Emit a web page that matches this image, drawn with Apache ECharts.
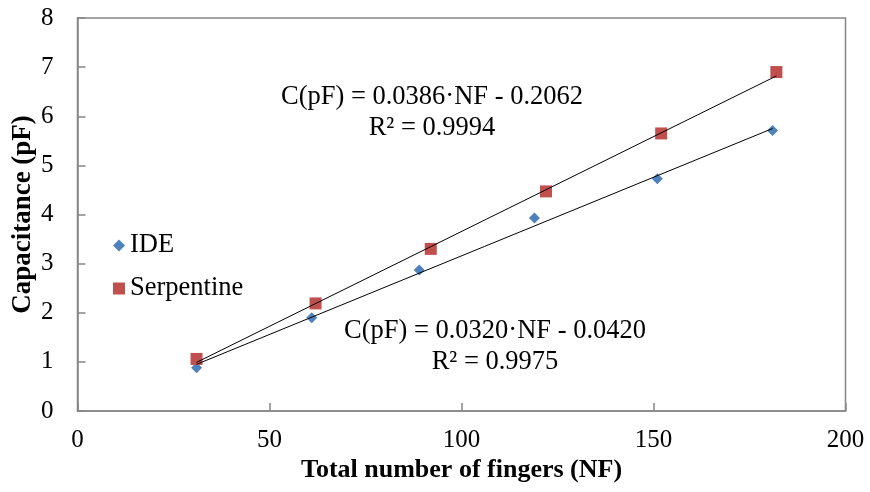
<!DOCTYPE html>
<html>
<head>
<meta charset="utf-8">
<script src="https://cdn.jsdelivr.net/npm/echarts@6/dist/echarts.min.js"></script>
<style>html,body{margin:0;padding:0;background:#fff}#c{width:870px;height:492px}</style>
</head>
<body>
<div id="c"></div>
<script>
var ideData = [[31, 0.88], [61, 1.90], [89, 2.87], [119, 3.93], [151, 4.73], [181, 5.71]];
var serpData = [[31, 1.06], [62, 2.19], [92, 3.30], [122, 4.47], [152, 5.65], [182, 6.90]];
var ideTrend = [[31, 0.95], [181, 5.75]];
var serpTrend = [[31, 0.99], [182, 6.82]];
var ideEq = 'C(pF) = 0.0320·NF - 0.0420\nR² = 0.9975';
var serpEq = 'C(pF) = 0.0386·NF - 0.2062\nR² = 0.9994';
var xTitle = 'Total number of fingers (NF)';
var yTitle = 'Capacitance (pF)';

var FONT = '"Liberation Serif", "Times New Roman", serif';
var AX = '#868686';
var chart = echarts.init(document.getElementById('c'), null, {renderer: 'canvas'});
chart.setOption({
  animation: false,
  backgroundColor: '#fff',
  textStyle: {fontFamily: FONT},
  grid: {left: 77.5, right: 24.5, top: 18, bottom: 81, show: true, borderColor: AX, borderWidth: 1.5, containLabel: false, outerBoundsMode: 'none'},
  xAxis: {
    type: 'value', min: 0, max: 200, interval: 50,
    axisLine: {show: true, lineStyle: {color: AX, width: 1.5}},
    axisTick: {show: true, inside: true, length: 8, lineStyle: {color: AX, width: 1.5}},
    splitLine: {show: false},
    axisLabel: {color: '#000', fontSize: 25, fontFamily: FONT, margin: 17},
    name: xTitle, nameLocation: 'middle', nameGap: 46, nameMoveOverlap: false,
    nameTextStyle: {color: '#000', fontSize: 26, fontWeight: 'bold', fontFamily: FONT, verticalAlign: 'top'}
  },
  yAxis: {
    type: 'value', min: 0, max: 8, interval: 1,
    axisLine: {show: true, lineStyle: {color: AX, width: 1.5}},
    axisTick: {show: true, inside: true, length: 8, lineStyle: {color: AX, width: 1.5}},
    splitLine: {show: false},
    axisLabel: {color: '#000', fontSize: 25, fontFamily: FONT, margin: 24},
    name: yTitle, nameLocation: 'middle', nameGap: 41, nameRotate: 90, nameMoveOverlap: false,
    nameTextStyle: {color: '#000', fontSize: 27, fontWeight: 'bold', fontFamily: FONT}
  },
  legend: {
    orient: 'vertical', left: 108, top: 227,
    itemWidth: 12, itemHeight: 12, itemGap: 16,
    textStyle: {color: '#000', fontSize: 26.5, fontFamily: FONT, lineHeight: 27},
    data: [{name: 'IDE', icon: 'diamond'}, {name: 'Serpentine', icon: 'rect'}]
  },
  series: [
    {name: 'IDE trend', type: 'line', data: ideTrend, symbol: 'none', lineStyle: {color: '#000', width: 1}, silent: true, z: 3},
    {name: 'Serpentine trend', type: 'line', data: serpTrend, symbol: 'none', lineStyle: {color: '#000', width: 1}, silent: true, z: 3},
    {name: 'IDE', type: 'scatter', data: ideData, symbol: 'diamond', symbolSize: 11, itemStyle: {color: '#4F81BD', opacity: 1}, z: 2},
    {name: 'Serpentine', type: 'scatter', data: serpData, symbol: 'rect', symbolSize: 12, itemStyle: {color: '#C0504D', opacity: 1}, z: 2}
  ],
  graphic: [
    {type: 'text', x: 432, y: 113, style: {text: serpEq, font: '26.5px ' + FONT, fill: '#000', align: 'center', verticalAlign: 'middle', lineHeight: 31}},
    {type: 'text', x: 495, y: 347, style: {text: ideEq, font: '26.5px ' + FONT, fill: '#000', align: 'center', verticalAlign: 'middle', lineHeight: 31}}
  ]
});
</script>
</body>
</html>
